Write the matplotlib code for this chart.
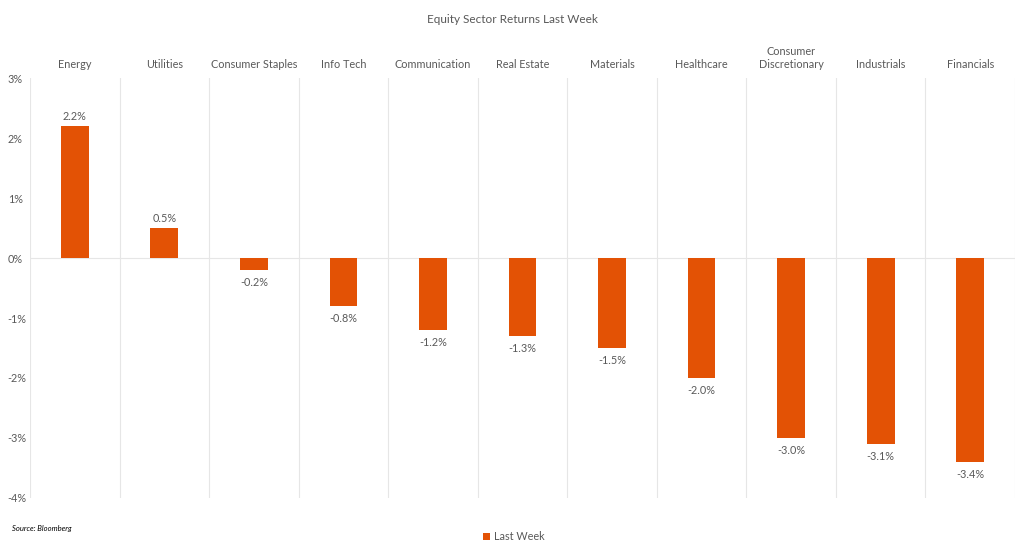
import matplotlib.pyplot as plt
from matplotlib.ticker import FuncFormatter, MultipleLocator
import numpy as np

plt.rcParams['font.family'] = ['Lato', 'DejaVu Sans']

sectors = ['Energy', 'Utilities', 'Consumer Staples', 'Info Tech', 'Communication',
           'Real Estate', 'Materials', 'Healthcare', 'Consumer\nDiscretionary',
           'Industrials', 'Financials']
returns = [2.2, 0.5, -0.2, -0.8, -1.2, -1.3, -1.5, -2.0, -3.0, -3.1, -3.4]

bar_color = '#E35205'
text_color = '#595959'

fig = plt.figure(figsize=(10.24, 5.51), dpi=100)
ax = fig.add_axes([30 / 1024, 53 / 551, 985 / 1024, 420 / 551])

x = np.arange(len(sectors))
ax.bar(x, returns, width=0.31, color=bar_color, label='Last Week', zorder=3)

# value labels above / below each bar
for xi, v in zip(x, returns):
    if v >= 0:
        ax.text(xi, v + 0.07, f'{v:.1f}%', ha='center', va='bottom', fontsize=7.8, color=text_color)
    else:
        ax.text(xi, v - 0.12, f'{v:.1f}%', ha='center', va='top', fontsize=7.8, color=text_color)

ax.set_xlim(-0.5, len(sectors) - 0.5)
ax.set_ylim(-4, 3)
ax.yaxis.set_major_locator(MultipleLocator(1))
ax.yaxis.set_major_formatter(FuncFormatter(lambda v, p: f'{v:.0f}%'))

# category names sit on top
ax.xaxis.tick_top()
ax.set_xticks(x)
ax.set_xticklabels(sectors)
ax.set_xticks(np.arange(-0.5, len(sectors)), minor=True)
ax.tick_params(axis='x', which='both', length=0, pad=6, labelsize=7.8, labelcolor=text_color)
ax.tick_params(axis='y', length=0, labelsize=7.8, labelcolor=text_color)
for lbl in ax.get_yticklabels():
    lbl.set_horizontalalignment('left')
ax.tick_params(axis='y', pad=16)

ax.grid(True, which='minor', axis='x', color='#E6E6E6', linewidth=0.8, zorder=0)
ax.grid(False, which='major')
ax.axhline(0, color='#E6E6E6', linewidth=0.8, zorder=1)
for s in ax.spines.values():
    s.set_visible(False)

fig.text(0.5, 0.975, 'Equity Sector Returns Last Week', ha='center', va='top',
         fontsize=8.5, color=text_color)
fig.text(12 / 1024, 1 - 528 / 551, 'Source: Bloomberg', ha='left', va='center',
         fontsize=5.5, style='italic', color='black')

fig.legend(loc='center', bbox_to_anchor=(514 / 1024, 1 - 537 / 551), frameon=False,
           fontsize=7.8, handlelength=0.6, handleheight=0.6, handletextpad=0.4,
           labelcolor=text_color)

fig.savefig('out.png', dpi=100)
